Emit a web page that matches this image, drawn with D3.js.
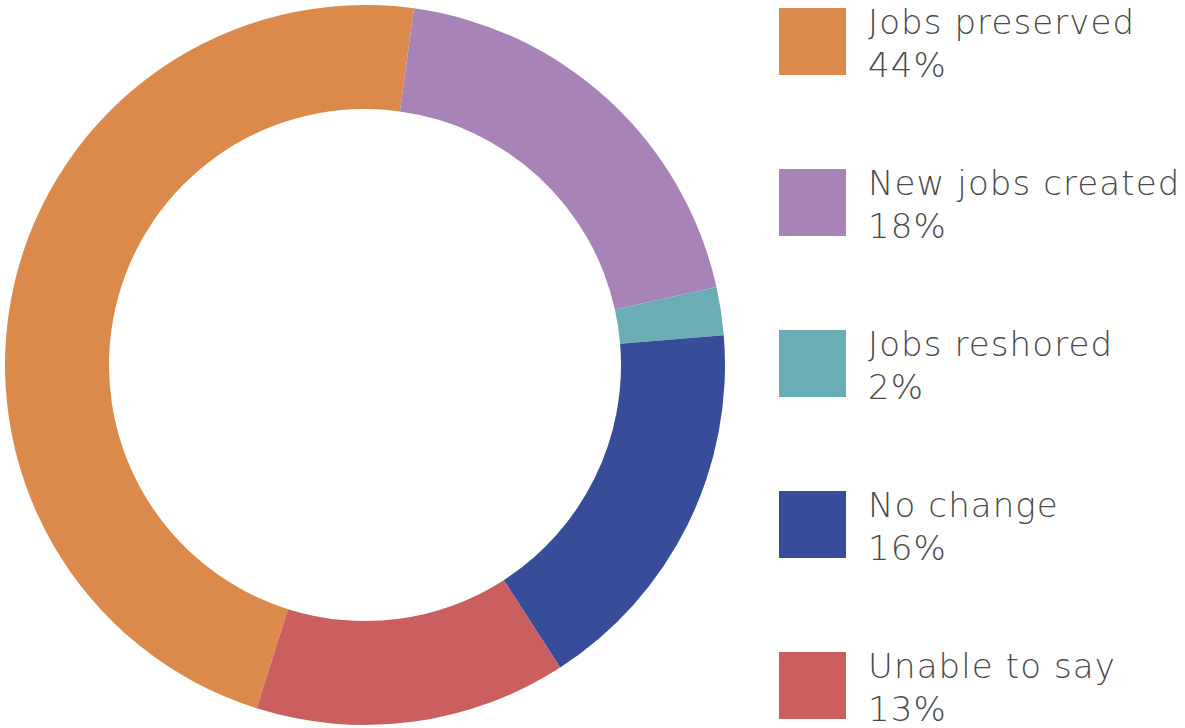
<!DOCTYPE html>
<html>
<head>
<meta charset="utf-8">
<script src="https://cdn.jsdelivr.net/npm/d3@7"></script>
<style>
  html, body { margin: 0; padding: 0; background: #ffffff; }
  svg { display: block; }
  .legend-text { font-family: "DejaVu Sans", sans-serif; font-weight: 200; fill: #4a4a4a; letter-spacing: 1.1px; }
</style>
</head>
<body>
<svg id="chart" width="1185" height="728"></svg>
<script>
// Outcome categories and their shares (percent)
const categories = ["Jobs preserved", "New jobs created", "Jobs reshored", "No change", "Unable to say"];
const values = [44, 18, 2, 16, 13];
const colors = ["#DC8A4C", "#A883B7", "#6AADB5", "#374D9A", "#CB5F5F"];

const width = 1185, height = 728;
const cx = 365, cy = 365;
const outerR = 360, innerR = 256;
const startDeg = -162.5;

const svg = d3.select("#chart");

const pie = d3.pie()
  .sort(null)
  .value(d => d.value)
  .startAngle(startDeg * Math.PI / 180)
  .endAngle(startDeg * Math.PI / 180 + 2 * Math.PI);

const arc = d3.arc().innerRadius(innerR).outerRadius(outerR);

const data = categories.map((c, i) => ({ label: c, value: values[i], color: colors[i] }));

svg.append("g")
  .attr("transform", `translate(${cx},${cy})`)
  .selectAll("path")
  .data(pie(data))
  .join("path")
  .attr("d", arc)
  .attr("fill", d => d.data.color);

// Legend: swatch plus two-line label
const legendY = d3.scalePoint()
  .domain(categories)
  .range([8, 652]);

const items = svg.append("g")
  .selectAll("g")
  .data(data)
  .join("g")
  .attr("transform", d => `translate(779,${legendY(d.label)})`);

items.append("rect")
  .attr("width", 67)
  .attr("height", 67)
  .attr("fill", d => d.color);

items.append("text")
  .attr("class", "legend-text")
  .attr("x", 89)
  .attr("y", 26)
  .style("font-size", "34px")
  .text(d => d.label);

items.append("text")
  .attr("class", "legend-text")
  .attr("x", 89)
  .attr("y", 69)
  .style("font-size", "34px")
  .text(d => d.value + "%");
</script>
</body>
</html>
